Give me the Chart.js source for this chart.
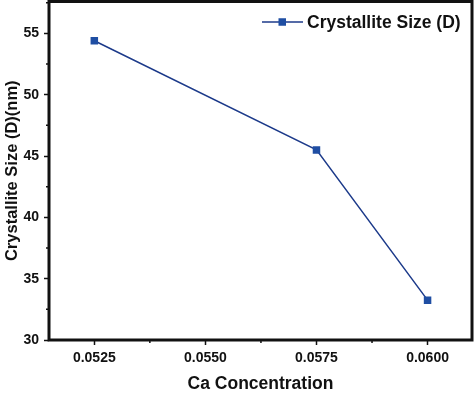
<!DOCTYPE html>
<html>
<head>
<meta charset="utf-8">
<script src="https://cdn.jsdelivr.net/npm/chart.js@4"></script>
<style>
  html, body { margin: 0; padding: 0; background: #fff; }
  #wrap { width: 474px; height: 395px; position: relative; }
</style>
</head>
<body>
<div id="wrap"><canvas id="chart"></canvas></div>
<script>
// Data
const caConcentration = [0.0525, 0.0575, 0.0600];
const crystalliteSize = [54.4, 45.5, 33.25];
const xTicks = [0.0525, 0.0550, 0.0575, 0.0600];
const yTicks = [30, 35, 40, 45, 50, 55];
const xMinorTicks = [0.05375, 0.05625, 0.05875];
const yMinorTicks = [32.5, 37.5, 42.5, 47.5, 52.5, 57.5];

const FONT = '"Liberation Sans", Arial, Helvetica, sans-serif';
const lineColor = '#1c3a8a';
const markerColor = '#1f4ea3';

// Frame, minor ticks and the line+square legend
const framePlugin = {
  id: 'frame',
  afterDraw(chart) {
    const { ctx, chartArea: a, scales } = chart;
    ctx.save();
    ctx.strokeStyle = '#111';
    ctx.lineWidth = 1.5;
    ctx.beginPath();
    for (const v of xMinorTicks) {
      const px = scales.x.getPixelForValue(v);
      ctx.moveTo(px, a.bottom);
      ctx.lineTo(px, a.bottom + 3);
    }
    for (const v of yMinorTicks) {
      const py = scales.y.getPixelForValue(v);
      if (py < a.top) continue;
      ctx.moveTo(a.left, py);
      ctx.lineTo(a.left - 3, py);
    }
    ctx.stroke();

    ctx.lineWidth = 3;
    ctx.strokeRect(a.left, a.top, a.right - a.left, a.bottom - a.top);

    // legend
    const ly = 22;
    ctx.strokeStyle = lineColor;
    ctx.lineWidth = 1.5;
    ctx.beginPath();
    ctx.moveTo(262, ly);
    ctx.lineTo(303, ly);
    ctx.stroke();
    ctx.fillStyle = markerColor;
    ctx.fillRect(278.5, ly - 3.75, 7.5, 7.5);
    ctx.fillStyle = '#111';
    ctx.font = 'bold 17.5px ' + FONT;
    ctx.textBaseline = 'middle';
    ctx.textAlign = 'left';
    ctx.fillText(chart.data.datasets[0].label, 307, ly + 1);
    ctx.restore();
  }
};

new Chart(document.getElementById('chart'), {
  type: 'line',
  data: {
    datasets: [{
      label: 'Crystallite Size (D)',
      data: caConcentration.map((x, i) => ({ x, y: crystalliteSize[i] })),
      borderColor: lineColor,
      borderWidth: 1.5,
      backgroundColor: markerColor,
      pointStyle: 'rect',
      pointRadius: 5.3,
      pointBorderWidth: 0,
      pointBackgroundColor: markerColor,
      tension: 0
    }]
  },
  options: {
    responsive: true,
    maintainAspectRatio: false,
    animation: false,
    events: [],
    layout: { autoPadding: false, padding: { top: 1.5, right: 2, left: 3, bottom: 0 } },
    plugins: {
      legend: { display: false },
      tooltip: { enabled: false }
    },
    scales: {
      x: {
        type: 'linear',
        min: 0.05148,
        max: 0.06100,
        afterBuildTicks: s => { s.ticks = xTicks.map(v => ({ value: v })); },
        afterFit: s => { s.height = 55; s.paddingLeft = 0; s.paddingRight = 0; },
        border: { display: false },
        grid: { drawOnChartArea: false, drawTicks: true, tickLength: 5, tickWidth: 1.5, tickColor: '#111' },
        ticks: {
          color: '#111',
          padding: 5,
          maxRotation: 0,
          font: { family: FONT, size: 14, weight: 'bold' },
          callback: v => Number(v).toFixed(4)
        },
        title: {
          display: true,
          text: 'Ca Concentration',
          color: '#111',
          padding: { top: 4, bottom: 0 },
          font: { family: FONT, size: 17.5, weight: 'bold' }
        }
      },
      y: {
        min: 30,
        max: 57.6,
        afterBuildTicks: s => { s.ticks = yTicks.map(v => ({ value: v })); },
        afterFit: s => { s.width = 46; s.paddingTop = 0; s.paddingBottom = 0; },
        border: { display: false },
        grid: { drawOnChartArea: false, drawTicks: true, tickLength: 5, tickWidth: 1.5, tickColor: '#111' },
        ticks: {
          color: '#111',
          padding: 5,
          font: { family: FONT, size: 14, weight: 'bold' }
        },
        title: {
          display: true,
          text: 'Crystallite Size (D)(nm)',
          color: '#111',
          padding: { top: 0, bottom: 4 },
          font: { family: FONT, size: 16.5, weight: 'bold' }
        }
      }
    }
  },
  plugins: [framePlugin]
});
</script>
</body>
</html>
